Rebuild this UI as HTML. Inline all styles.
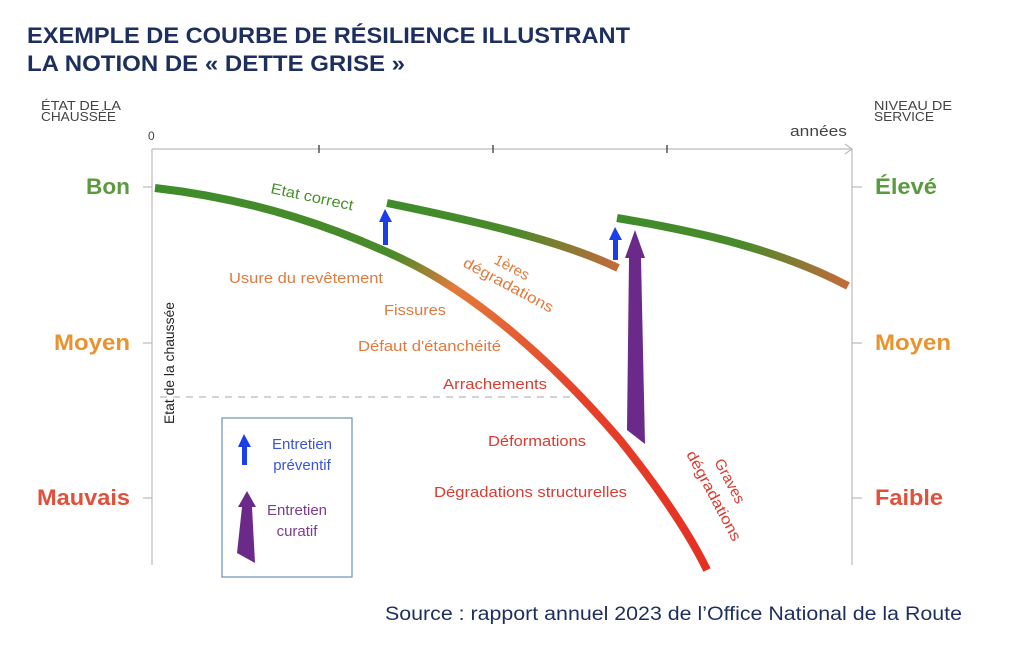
<!DOCTYPE html>
<html><head><meta charset="utf-8"><style>
body{margin:0;background:#fff;width:1024px;height:648px;overflow:hidden;font-family:"Liberation Sans",sans-serif}
</style></head><body>
<svg width="1024" height="648" xmlns="http://www.w3.org/2000/svg" font-family="Liberation Sans, sans-serif">
<defs>
<linearGradient id="g1" gradientUnits="userSpaceOnUse" x1="155" y1="188" x2="707" y2="570">
<stop offset="0" stop-color="#3e8c2a"/><stop offset="0.35" stop-color="#4a8a2a"/><stop offset="0.45" stop-color="#e27a3a"/><stop offset="0.7" stop-color="#e5402a"/><stop offset="1" stop-color="#e52f22"/></linearGradient>
<linearGradient id="g2" gradientUnits="userSpaceOnUse" x1="387" y1="0" x2="618" y2="0">
<stop offset="0" stop-color="#3e8c2a"/><stop offset="0.55" stop-color="#4a8a2a"/><stop offset="1" stop-color="#c46a3a"/></linearGradient>
<linearGradient id="g3" gradientUnits="userSpaceOnUse" x1="617" y1="0" x2="848" y2="0">
<stop offset="0" stop-color="#3e8c2a"/><stop offset="0.55" stop-color="#4a8a2a"/><stop offset="1" stop-color="#c46a3a"/></linearGradient>
</defs>
<text x="27" y="43" font-size="22" font-weight="bold" fill="#1d2f5e" textLength="603" lengthAdjust="spacingAndGlyphs">EXEMPLE DE COURBE DE RÉSILIENCE ILLUSTRANT</text>
<text x="27" y="71" font-size="22" font-weight="bold" fill="#1d2f5e" textLength="378" lengthAdjust="spacingAndGlyphs">LA NOTION DE « DETTE GRISE »</text>
<text x="41" y="110" font-size="13" fill="#444" textLength="80" lengthAdjust="spacingAndGlyphs">ÉTAT DE LA</text>
<text x="41" y="121" font-size="13" fill="#444" textLength="75" lengthAdjust="spacingAndGlyphs">CHAUSSÉE</text>
<text x="874" y="110" font-size="13" fill="#444" textLength="78" lengthAdjust="spacingAndGlyphs">NIVEAU DE</text>
<text x="874" y="121" font-size="13" fill="#444" textLength="60" lengthAdjust="spacingAndGlyphs">SERVICE</text>
<text x="148" y="140" font-size="12" fill="#444">0</text>
<text x="790" y="136" font-size="15" fill="#444" textLength="57" lengthAdjust="spacingAndGlyphs">années</text>
<g stroke="#bbb" stroke-width="1.2" fill="none">
<line x1="152" y1="149" x2="852" y2="149"/><polyline points="845,144 852,149 845,154"/>
<line x1="152" y1="149" x2="152" y2="565"/><line x1="852" y1="149" x2="852" y2="565"/>
<line x1="143" y1="187" x2="152" y2="187"/><line x1="143" y1="343" x2="152" y2="343"/><line x1="143" y1="498" x2="152" y2="498"/>
<line x1="852" y1="187" x2="862" y2="187"/><line x1="852" y1="343" x2="862" y2="343"/><line x1="852" y1="498" x2="862" y2="498"/>
<line x1="160" y1="397" x2="578" y2="397" stroke-dasharray="7,6"/>
</g>
<g stroke="#555" stroke-width="1.5"><line x1="319" y1="145" x2="319" y2="153"/><line x1="493" y1="145" x2="493" y2="153"/><line x1="667" y1="145" x2="667" y2="153"/></g>
<g font-size="22" font-weight="bold">
<text x="130" y="194" text-anchor="end" fill="#5b9a3e" textLength="44" lengthAdjust="spacingAndGlyphs">Bon</text>
<text x="130" y="350" text-anchor="end" fill="#e8932e" textLength="76" lengthAdjust="spacingAndGlyphs">Moyen</text>
<text x="130" y="505" text-anchor="end" fill="#e0503a" textLength="93" lengthAdjust="spacingAndGlyphs">Mauvais</text>
<text x="875" y="194" fill="#5b9a3e" textLength="62" lengthAdjust="spacingAndGlyphs">Élevé</text>
<text x="875" y="350" fill="#e8932e" textLength="76" lengthAdjust="spacingAndGlyphs">Moyen</text>
<text x="875" y="505" fill="#e0503a" textLength="68" lengthAdjust="spacingAndGlyphs">Faible</text>
</g>
<path d="M155,188 C260,200 340,230 400,258 C480,295 560,370 620,440 C660,490 690,535 707,570" stroke="url(#g1)" stroke-width="8" fill="none"/>
<path d="M387,203 C470,220 560,240 618,268" stroke="url(#g2)" stroke-width="8" fill="none"/>
<path d="M617,218 C700,232 780,250 848,286" stroke="url(#g3)" stroke-width="8" fill="none"/>
<g fill="#1a3fe8">
<polygon points="385,209 379,222 383,222 383,245 388,245 388,222 392,222"/>
<polygon points="615,227 609,240 613,240 613,260 618,260 618,240 622,240"/>
<polygon points="244,434 238,447 242,447 242,465 247,465 247,447 251,447"/>
</g>
<g fill="#6b2a8a">
<polygon points="635,230 625,258 629,258 627,430 645,444 641,258 645,258"/>
<polygon points="247,491 238,507 242,507 237,553 255,563 252,507 256,507"/>
</g>
<rect x="222" y="418" width="130" height="159" fill="none" stroke="#6f8fb8" stroke-width="1.2"/>
<g font-size="15" text-anchor="middle">
<text x="302" y="449" fill="#3b55d8">Entretien</text>
<text x="302" y="470" fill="#3b55d8">préventif</text>
<text x="297" y="515" fill="#7a3d8f">Entretien</text>
<text x="297" y="536" fill="#7a3d8f">curatif</text>
</g>
<text transform="translate(270,193) rotate(12)" font-size="15" fill="#4a8f2e" textLength="84" lengthAdjust="spacingAndGlyphs">Etat correct</text>
<g font-size="15" fill="#e07a3e">
<text x="229" y="283" textLength="154" lengthAdjust="spacingAndGlyphs">Usure du revêtement</text>
<text x="384" y="315" textLength="62" lengthAdjust="spacingAndGlyphs">Fissures</text>
<text x="358" y="351" textLength="143" lengthAdjust="spacingAndGlyphs">Défaut d'étanchéité</text>
<text transform="translate(493,263) rotate(28)">1ères</text>
<text transform="translate(462,266) rotate(28)" textLength="100" lengthAdjust="spacingAndGlyphs">dégradations</text>
</g>
<g font-size="15" fill="#dc3b32">
<text x="443" y="389" textLength="104" lengthAdjust="spacingAndGlyphs">Arrachements</text>
<text x="488" y="446" textLength="98" lengthAdjust="spacingAndGlyphs">Déformations</text>
<text x="434" y="497" textLength="193" lengthAdjust="spacingAndGlyphs">Dégradations structurelles</text>
<text transform="translate(714,462) rotate(62)">Graves</text>
<text transform="translate(686,454) rotate(62)" textLength="100" lengthAdjust="spacingAndGlyphs">dégradations</text>
</g>
<text transform="translate(174,424) rotate(-90)" font-size="14" fill="#222" textLength="122" lengthAdjust="spacingAndGlyphs">Etat de la chaussée</text>
<text x="385" y="620" font-size="19" fill="#1d2f5e" textLength="577" lengthAdjust="spacingAndGlyphs">Source : rapport annuel 2023 de l’Office National de la Route</text>
</svg>
</body></html>
